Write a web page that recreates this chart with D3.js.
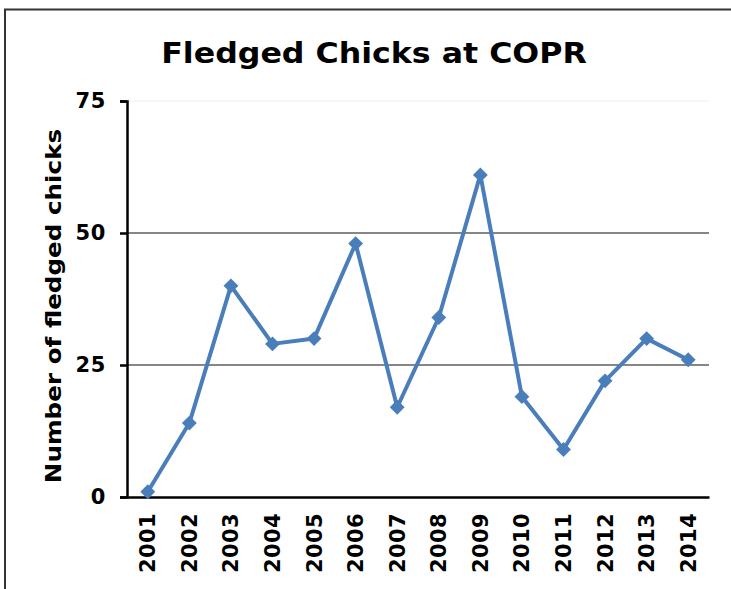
<!DOCTYPE html>
<html>
<head>
<meta charset="utf-8">
<script src="https://cdn.jsdelivr.net/npm/d3@7"></script>
<style>
  body { margin: 0; background: #fff; }
  svg text { font-family: "DejaVu Sans", Verdana, sans-serif; font-weight: bold; fill: #000; }
</style>
</head>
<body>
<div id="graf"></div>
<script>
// Datos
const anios = ["2001", "2002", "2003", "2004", "2005", "2006", "2007",
  "2008", "2009", "2010", "2011", "2012", "2013", "2014"]
const polluelos = [1, 14, 40, 29, 30, 48, 17, 34, 61, 19, 9, 22, 30, 26]
const ticksY = [0, 25, 50, 75]

const draw = () => {
  const ancho = 731
  const alto = 589
  const margen = { top: 101, right: 22, bottom: 92, left: 127 }

  const svg = d3.select("#graf")
    .append("svg")
    .attr("width", ancho)
    .attr("height", alto)

  // Marco
  svg.append("path")
    .attr("d", `M5,${alto} V9.5 H${ancho}`)
    .attr("fill", "none")
    .attr("stroke", "#333")
    .attr("stroke-width", 2)

  // Escaladores
  const x = d3.scaleBand()
    .domain(anios)
    .range([margen.left, ancho - margen.right])

  const y = d3.scaleLinear()
    .domain([0, 75])
    .range([alto - margen.bottom, margen.top])

  // Grilla
  svg.append("g")
    .selectAll("line")
    .data(ticksY.filter((d) => d > 0))
    .join("line")
    .attr("x1", margen.left)
    .attr("x2", ancho - margen.right)
    .attr("y1", (d) => y(d))
    .attr("y2", (d) => y(d))
    .attr("stroke", (d) => (d === 75 ? "#eeeeee" : "#868686"))
    .attr("stroke-width", (d) => (d === 75 ? 1 : 2))

  // Eje Y
  const ejeY = svg.append("g")
    .attr("transform", `translate(${margen.left}, 0)`)
    .call(d3.axisLeft(y).tickValues(ticksY).tickSize(7).tickPadding(14))
  ejeY.select(".domain").attr("stroke", "#000").attr("stroke-width", 2.5)
  ejeY.selectAll(".tick line").attr("stroke", "#000").attr("stroke-width", 2.5)
  ejeY.selectAll(".tick text")
    .style("font-size", "21px")
    .style("letter-spacing", "0.6px")

  // Eje X
  const ejeX = svg.append("g")
    .attr("transform", `translate(0, ${y(0)})`)
    .call(d3.axisBottom(x).tickSize(0).tickPadding(0))
  ejeX.select(".domain").attr("stroke", "#000").attr("stroke-width", 2.5)
  ejeX.selectAll(".tick text")
    .style("font-size", "21px")
    .style("letter-spacing", "0.4px")
    .attr("text-anchor", "end")
    .attr("dy", "0.36em")
    .attr("transform", "translate(0, 16) rotate(-90)")

  // Linea
  const linea = d3.line()
    .x((d, i) => x(anios[i]) + x.bandwidth() / 2)
    .y((d) => y(d))

  svg.append("path")
    .datum(polluelos)
    .attr("d", linea)
    .attr("fill", "none")
    .attr("stroke", "#4a7ebb")
    .attr("stroke-width", 4)
    .attr("stroke-linejoin", "round")

  svg.append("g")
    .selectAll("path")
    .data(polluelos)
    .join("path")
    .attr("d", d3.symbol(d3.symbolSquare, 110))
    .attr("transform", (d, i) =>
      `translate(${x(anios[i]) + x.bandwidth() / 2}, ${y(d)}) rotate(45)`)
    .attr("fill", "#4a7ebb")

  // Titulos
  svg.append("text")
    .attr("transform", "translate(374, 63) scale(1.13, 1)")
    .attr("text-anchor", "middle")
    .style("font-size", "28px")
    .text("Fledged Chicks at COPR")

  svg.append("text")
    .attr("transform",
      `translate(61, ${(y(0) + y(75)) / 2 + 7}) rotate(-90) scale(1.12, 1)`)
    .attr("text-anchor", "middle")
    .style("font-size", "22px")
    .text("Number of fledged chicks")
}

draw()
</script>
</body>
</html>
